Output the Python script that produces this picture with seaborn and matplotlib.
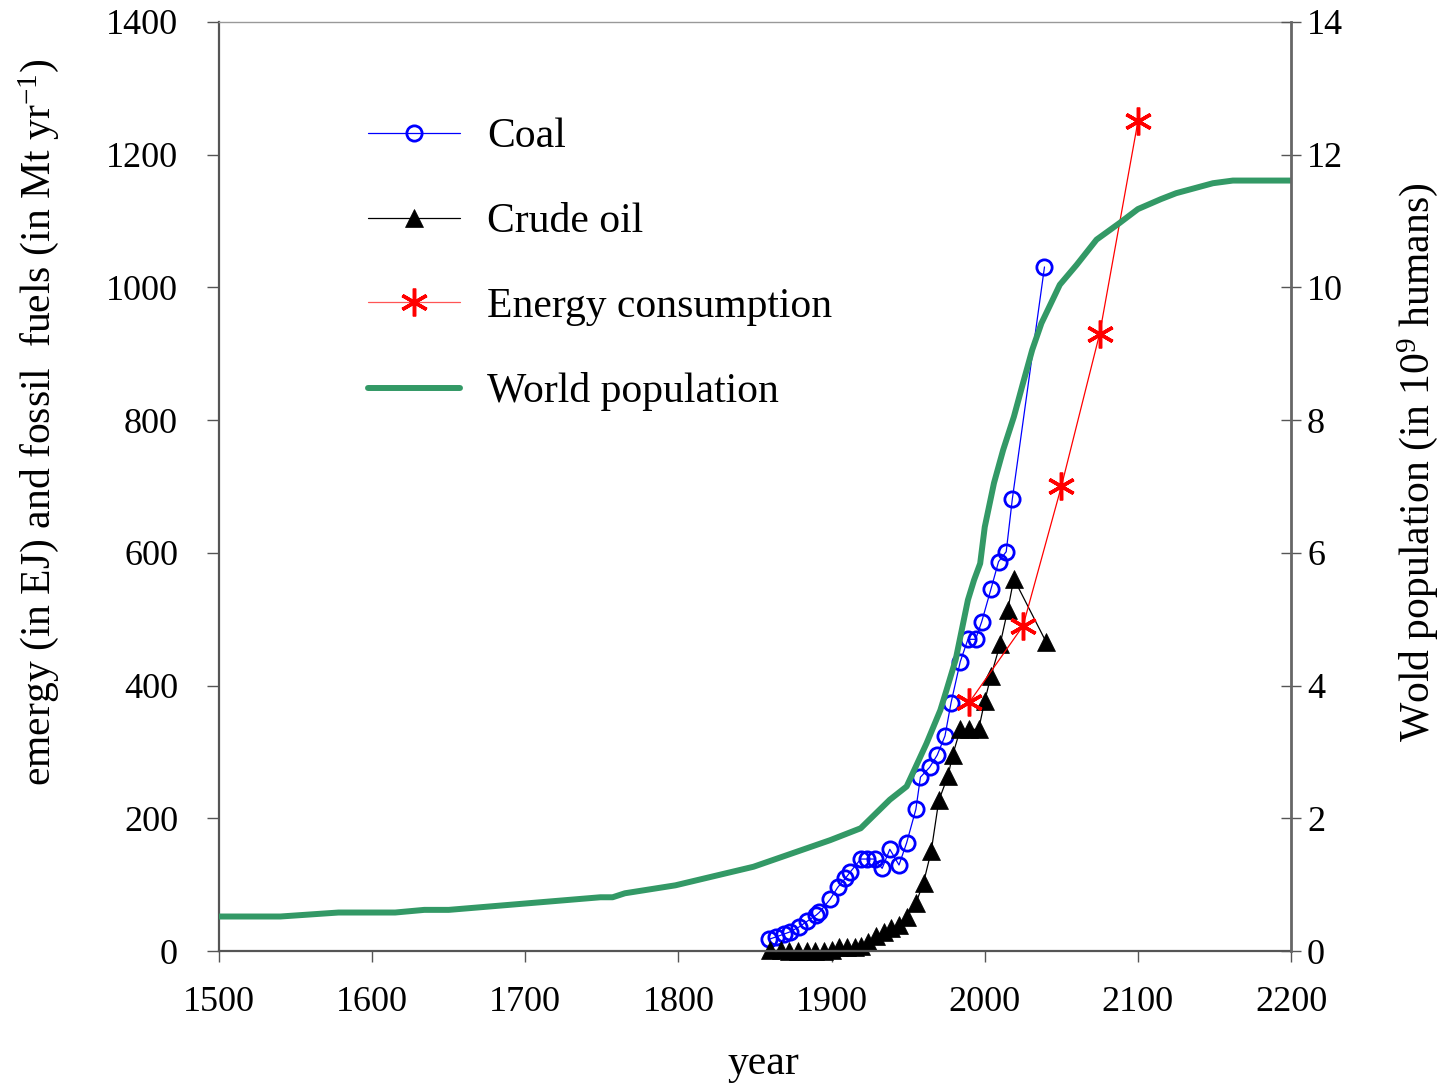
import matplotlib
matplotlib.use("Agg")
import matplotlib.pyplot as plt
import seaborn as sns
import pandas as pd
from matplotlib.lines import Line2D

# Coal production (Mt per year)
coal_years = [1859, 1864, 1869, 1873, 1879, 1884, 1890, 1892, 1899, 1904,
              1909, 1912, 1919, 1923, 1928, 1933, 1938, 1944, 1949, 1955,
              1958, 1964, 1969, 1974, 1978, 1984, 1989, 1994, 1998, 2004,
              2009, 2014, 2018, 2039]
coal_mt = [17.6, 21.5, 25.6, 29, 36.6, 44.8, 54.2, 58.3, 77.9, 96,
           109.6, 118.6, 138.6, 138.6, 138.6, 124.6, 153.3, 129.6, 163.2, 213.5,
           262, 276.8, 295.4, 324, 374.2, 436, 469.7, 469.7, 496.2, 545.1,
           586.7, 601.7, 681.2, 1030.8]

# Crude oil production (Mt per year)
oil_years = [1860, 1867, 1872, 1878, 1884, 1889, 1895, 1900, 1905, 1910,
             1915, 1919, 1924, 1929, 1934, 1939, 1944, 1949, 1955, 1960,
             1965, 1970, 1976, 1979, 1984, 1990, 1996, 2000, 2004, 2010,
             2015, 2019, 2040]
oil_mt = [1, 1, 0, 0, 0, 0, 0, 2, 6, 6,
          6, 8, 14, 22, 29, 34, 39, 52, 72, 103,
          150, 227, 264, 295, 334, 334, 334, 377, 414, 462,
          514, 561, 466]

# Energy consumption (EJ)
energy_years = [1990, 2025, 2050, 2075, 2100]
energy_ej = [375, 490, 700, 930, 1250]

# World population (billions)
pop_years = [1500, 1540, 1578, 1615, 1634, 1650, 1749, 1757, 1765, 1798,
             1849, 1899, 1919, 1938, 1949, 1953, 1962, 1971, 1975, 1981,
             1985, 1989, 1993, 1997, 2000, 2006, 2012, 2019, 2025, 2031,
             2037, 2049, 2060, 2073, 2088, 2100, 2115, 2125, 2149, 2162,
             2200]
pop_billion = [0.52, 0.52, 0.58, 0.58, 0.62, 0.62, 0.81, 0.81, 0.87, 0.99,
               1.27, 1.67, 1.85, 2.28, 2.48, 2.68, 3.13, 3.63, 3.93, 4.39,
               4.84, 5.29, 5.59, 5.84, 6.39, 7.05, 7.55, 8.05, 8.56, 9.06,
               9.46, 10.04, 10.34, 10.72, 10.97, 11.18, 11.33, 11.42, 11.57, 11.61,
               11.61]

x_ticks = [1500, 1600, 1700, 1800, 1900, 2000, 2100, 2200]
left_ticks = [0, 200, 400, 600, 800, 1000, 1200, 1400]
right_ticks = [0, 2, 4, 6, 8, 10, 12, 14]

coal = pd.DataFrame({"year": coal_years, "value": coal_mt})
oil = pd.DataFrame({"year": oil_years, "value": oil_mt})
energy = pd.DataFrame({"year": energy_years, "value": energy_ej})
pop = pd.DataFrame({"year": pop_years, "value": pop_billion})

sns.set_theme(style="white")
plt.rcParams["font.family"] = ["Liberation Serif", "DejaVu Serif"]
plt.rcParams["mathtext.fontset"] = "custom"
plt.rcParams["mathtext.rm"] = "Liberation Serif"
plt.rcParams["mathtext.it"] = "Liberation Serif:italic"
plt.rcParams["axes.unicode_minus"] = False
plt.rcParams["text.color"] = "black"
plt.rcParams["axes.labelcolor"] = "black"
plt.rcParams["xtick.color"] = "black"
plt.rcParams["ytick.color"] = "black"

GREEN = "#339966"
SPINE = "#555555"

fig = plt.figure(figsize=(14.43, 10.87), dpi=100)
ax = fig.add_axes([0.1518, 0.1251, 0.7429, 0.8547])
ax2 = ax.twinx()

sns.lineplot(data=coal, x="year", y="value", ax=ax, color="#0000FF",
             linewidth=0.9, marker="o", markersize=11, markerfacecolor="none",
             markeredgecolor="#0000FF", markeredgewidth=2.0, label="Coal",
             legend=False, clip_on=False)
sns.lineplot(data=oil, x="year", y="value", ax=ax, color="black",
             linewidth=0.9, marker="^", markersize=13, markerfacecolor="black",
             markeredgecolor="black", markeredgewidth=0.5, label="Crude oil",
             legend=False, clip_on=False)
sns.lineplot(data=energy, x="year", y="value", ax=ax, color="#FF0000",
             linewidth=0.9, marker=(6, 2, 0), markersize=20,
             markeredgecolor="#FF0000", markeredgewidth=2.5,
             label="Energy consumption", legend=False, clip_on=False)
sns.lineplot(data=pop, x="year", y="value", ax=ax2, color=GREEN,
             linewidth=4.3, label="World population", legend=False)

ax.set_xlim(1500, 2200)
ax.set_ylim(0, 1400)
ax2.set_ylim(0, 14)
ax.set_xticks(x_ticks)
ax.set_yticks(left_ticks)
ax2.set_yticks(right_ticks)

ax.tick_params(axis="y", which="major", direction="out", length=8.5, width=1,
               color=SPINE, labelcolor="black", labelsize=26, pad=21, left=True)
ax.tick_params(axis="x", which="major", direction="out", length=8, width=1,
               color=SPINE, labelcolor="black", labelsize=26, pad=17, bottom=True)
ax2.tick_params(axis="y", which="major", direction="inout", length=14, width=1,
                color=SPINE, labelcolor="black", labelsize=26, pad=4.5, right=True)

for name, sp in ax.spines.items():
    sp.set_color(SPINE)
    sp.set_linewidth(1.6)
ax.spines["top"].set_color("#999999")
ax.spines["top"].set_linewidth(1.0)
ax.spines["right"].set_visible(False)
for name in ["left", "top", "bottom"]:
    ax2.spines[name].set_visible(False)
ax2.spines["right"].set_color("#666666")
ax2.spines["right"].set_linewidth(2.0)

ax.set_xlabel("year", fontsize=30, color="black")
ax.set_ylabel(r"emergy (in EJ) and fossil  fuels (in Mt yr$^{\mathrm{-1}}$)",
              fontsize=30, color="black")
ax2.set_ylabel(r"Wold population (in 10$^{\mathrm{9}}$ humans)", fontsize=30,
               color="black")
ax.xaxis.set_label_coords(0.5075, -0.101)
ax.yaxis.set_label_coords(-0.147, 0.569)
ax2.yaxis.set_label_coords(1.097, 0.526)

handles = [
    Line2D([], [], color="#0000FF", lw=0.9, marker="o", ms=11, mfc="none",
           mec="#0000FF", mew=2.0),
    Line2D([], [], color="black", lw=0.9, marker="^", ms=13, mfc="black",
           mec="black", mew=0.5),
    Line2D([], [], color="#FF5555", lw=0.9, marker=(6, 2, 0), ms=20,
           mec="#FF0000", mew=2.5),
    Line2D([], [], color=GREEN, lw=4.3),
]
labels = ["Coal", "Crude oil", "Energy consumption", "World population"]
leg = ax2.legend(handles, labels, loc="upper left",
                 bbox_to_anchor=((368 - 219) / 1072, (951 - 118) / 929),
                 frameon=False, fontsize=30, handlelength=2.2,
                 handletextpad=0.65, labelspacing=1.11, borderpad=0,
                 borderaxespad=0, numpoints=1)
for t in leg.get_texts():
    t.set_color("black")

fig.savefig("out.png", dpi=100)
